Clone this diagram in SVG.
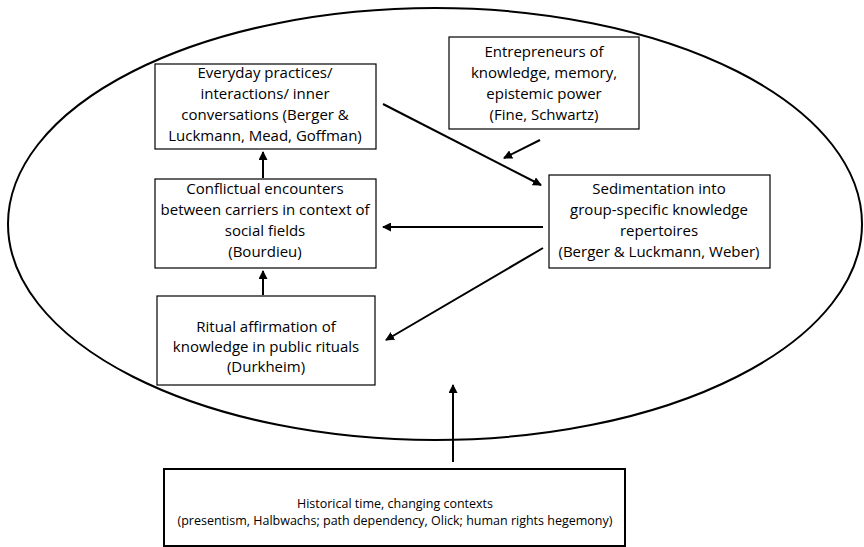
<svg xmlns="http://www.w3.org/2000/svg" width="864" height="547" viewBox="0 0 864 547">
<style>
.box{fill:#fff;stroke:#000;stroke-width:1.2}
.t{font-family:"Open Sans","Liberation Sans",sans-serif;font-size:15px;fill:#000;text-anchor:middle}
.c{stroke:#000;stroke-width:2;fill:none}
</style>
<defs>
<marker id="ah" markerWidth="9" markerHeight="9" refX="8" refY="4.5" orient="auto" markerUnits="userSpaceOnUse">
<path d="M0,0 L9,4.5 L0,9 Z" fill="#000"/>
</marker>
</defs>
<rect width="864" height="547" fill="#fff"/>
<ellipse id="context" cx="435" cy="224" rx="427" ry="216" fill="none" stroke="#000" stroke-width="2"/>
<g id="connectors">
<line class="c" x1="263" y1="178" x2="263" y2="152" marker-end="url(#ah)"/>
<line class="c" x1="263" y1="295" x2="263" y2="271" marker-end="url(#ah)"/>
<line class="c" x1="383" y1="104" x2="541" y2="185" marker-end="url(#ah)"/>
<line class="c" x1="540" y1="140" x2="504" y2="158" marker-end="url(#ah)"/>
<line class="c" x1="543" y1="227" x2="383" y2="227" marker-end="url(#ah)"/>
<line class="c" x1="543" y1="248" x2="386" y2="340" marker-end="url(#ah)"/>
<line class="c" x1="453" y1="462" x2="453" y2="385" marker-end="url(#ah)"/>
</g>
<g id="everyday">
<rect class="box" x="155" y="64" width="221" height="85"/>
<text class="t" x="265" y="78">Everyday practices/</text>
<text class="t" x="265" y="99">interactions/ inner</text>
<text class="t" x="265" y="120">conversations (Berger &amp;</text>
<text class="t" x="265" y="141">Luckmann, Mead, Goffman)</text>
</g>
<g id="entrepreneurs">
<rect class="box" x="449" y="37" width="190" height="92"/>
<text class="t" x="544" y="57">Entrepreneurs of</text>
<text class="t" x="544" y="78">knowledge, memory,</text>
<text class="t" x="544" y="99">epistemic power</text>
<text class="t" x="544" y="120">(Fine, Schwartz)</text>
</g>
<g id="sedimentation">
<rect class="box" x="549" y="175" width="221" height="93"/>
<text class="t" x="659" y="194">Sedimentation into</text>
<text class="t" x="659" y="215">group-specific knowledge</text>
<text class="t" x="659" y="236">repertoires</text>
<text class="t" x="659" y="257">(Berger &amp; Luckmann, Weber)</text>
</g>
<g id="conflictual">
<rect class="box" x="155" y="179" width="221" height="89"/>
<text class="t" x="265" y="194">Conflictual encounters</text>
<text class="t" x="265" y="215">between carriers in context of</text>
<text class="t" x="265" y="236">social fields</text>
<text class="t" x="265" y="257">(Bourdieu)</text>
</g>
<g id="ritual">
<rect class="box" x="157" y="296" width="218" height="89"/>
<text class="t" x="266" y="332">Ritual affirmation of</text>
<text class="t" x="266" y="352">knowledge in public rituals</text>
<text class="t" x="266" y="372">(Durkheim)</text>
</g>
<g id="historical">
<rect x="164" y="469" width="461" height="77" fill="#fff" stroke="#000" stroke-width="2"/>
<text class="t" x="395" y="508" style="font-size:12.5px">Historical time, changing contexts</text>
<text class="t" x="395" y="525" style="font-size:12.5px">(presentism, Halbwachs; path dependency, Olick; human rights hegemony)</text>
</g>
</svg>
